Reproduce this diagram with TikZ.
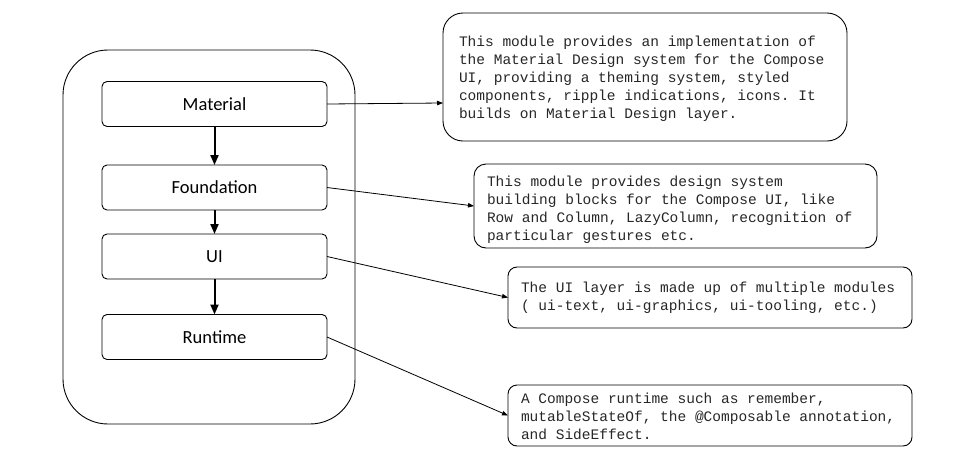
\documentclass[tikz,border=0pt]{standalone}
\usepackage{fontspec}
\newfontfamily\carlitofont{Carlito}
\newfontfamily\monofont{Liberation Mono}
\newcommand\fixsp{\spaceskip=0.6em\relax\xspaceskip=0.6em\relax}
\usetikzlibrary{arrows.meta}
\begin{document}
\begin{tikzpicture}[x=1pt,y=-1pt,
  layer/.style={draw=black,line width=0.9pt,rounded corners=5pt,minimum width=225pt,minimum height=45pt,inner sep=0pt,outer sep=0pt,font=\carlitofont\fontsize{18.5}{22}\selectfont},
  desc/.style={draw=black,line width=0.9pt,inner ysep=0pt,outer sep=0pt,align=left,font=\monofont\fontsize{14.5}{18}\selectfont,text=black!85},
  dep/.style={line width=2pt,-{Triangle[length=10pt,width=8pt]}},
  link/.style={line width=0.8pt,-{Triangle[length=6pt,width=4.5pt]}}
]
\useasboundingbox (0,0) rectangle (967,461);
\node[draw=black,line width=0.9pt,rounded corners=45pt,minimum width=292pt,minimum height=374pt,outer sep=0pt] (outer) at (209,237) {};
\node[layer] (mat) at (214.5,104) {Material};
\node[layer] (fou) at (214.5,187.5) {Foundation};
\node[layer] (ui) at (214.5,256.5) {UI};
\node[layer] (run) at (214.5,337) {Runtime};
\draw[dep] (mat) -- (fou);
\draw[dep] (fou) -- (ui);
\draw[dep] (ui) -- (run);
\node[desc,rounded corners=20pt,inner xsep=16pt,text width=372pt,minimum height=128pt,text height=33pt,text depth=95pt] (d1) at (645,77) {\fixsp This module provides an implementation of\\the Material Design system for the Compose\\UI, providing a theming system, styled\\components, ripple indications, icons. It\\builds on Material Design layer.};
\node[desc,rounded corners=12pt,inner xsep=13pt,text width=377pt,minimum height=84pt,text height=22pt,text depth=62pt] (d2) at (675.5,206) {\fixsp This module provides design system\\building blocks for the Compose UI, like\\Row and Column, LazyColumn, recognition of\\particular gestures etc.};
\node[desc,rounded corners=9pt,inner xsep=13pt,text width=378pt,minimum height=61pt,text height=25pt,text depth=36pt] (d3) at (710,297.5) {\fixsp The UI layer is made up of multiple modules\\( ui-text, ui-graphics, ui-tooling, etc.)};
\node[desc,rounded corners=9pt,inner xsep=13pt,text width=378pt,minimum height=61pt,text height=18pt,text depth=43pt] (d4) at (710,415.5) {\fixsp A Compose runtime such as remember,\\mutableStateOf, the @Composable annotation,\\and SideEffect.};
\coordinate (t1) at (443,103);
\draw[link] (mat.east) -- (t1);
\draw[link] (fou.east) -- (d2.west);
\draw[link] (ui.east) -- (d3.west);
\draw[link] (run.east) -- (d4.west);
\end{tikzpicture}
\end{document}
